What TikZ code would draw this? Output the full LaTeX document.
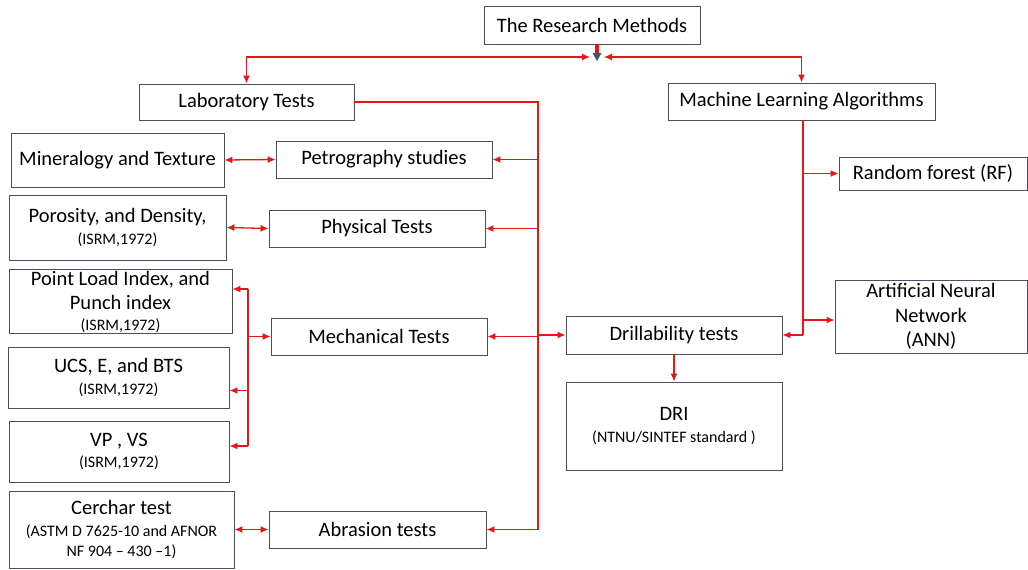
\documentclass[tikz,border=0pt]{standalone}
\usepackage{fontspec}
\setmainfont{Carlito}
\usetikzlibrary{arrows.meta}
\definecolor{linered}{RGB}{232,22,22}
\definecolor{boxgray}{RGB}{72,80,96}
\definecolor{tipblue}{RGB}{66,82,112}
\newcommand{\smtxt}[1]{{\fontsize{16}{18}\selectfont #1}}
\tikzset{
	box/.style={draw=boxgray,line width=0.9pt,align=center,inner sep=1pt,
		font=\fontsize{20.5}{24.5}\selectfont},
	link/.style={draw=linered,line width=1.3pt},
	stem/.style={linered,line width=4.5pt},
}
\begin{document}
\begin{tikzpicture}[x=1pt,y=-1pt,>={Latex[length={8pt 0},width={7pt 0}]}]
		\useasboundingbox (0,0) rectangle (1028,570);
		
		% top level
		\node[box,minimum width=216pt,minimum height=38pt] (rm) at (592,25) {The Research Methods};
		\node[box,minimum width=215pt,minimum height=36pt] (lab) at (246.5,102) {Laboratory Tests};
		\node[box,minimum width=267pt,minimum height=37pt] (ml) at (801.5,101.5) {Machine Learning Algorithms};
		
		% laboratory side
		\node[box,minimum width=216pt,minimum height=37pt] (pet) at (384,159.5) {Petrography studies};
		\node[box,minimum width=216pt,minimum height=37pt] (phy) at (377,228.5) {Physical Tests};
		\node[box,minimum width=216pt,minimum height=37pt] (mech) at (379,336.5) {Mechanical Tests};
		\node[box,minimum width=217pt,minimum height=37pt] (abr) at (377.5,529.5) {Abrasion tests};
		
		\node[box,minimum width=213pt,minimum height=54pt] (min) at (117.5,160) {Mineralogy and Texture};
		\node[box,minimum width=217pt,minimum height=65pt] (por) at (117.5,227.5) {Porosity, and Density,\\[-3pt]\smtxt{(ISRM,1972)}};
		\node[box,minimum width=223pt,minimum height=63pt] (pli) at (120.5,301.5) {Point Load Index, and\\Punch index\\[-4pt]\smtxt{(ISRM,1972)}};
		\node[box,minimum width=221pt,minimum height=61pt] (ucs) at (118.5,377.5) {UCS, E, and BTS\\[-3pt]\smtxt{(ISRM,1972)}};
		\node[box,minimum width=220pt,minimum height=61pt] (vp) at (119,451.5) {VP , VS\\[-3pt]\smtxt{(ISRM,1972)}};
		\node[box,minimum width=225pt,minimum height=77pt] (cer) at (121.5,529.5) {Cerchar test\\[-3pt]\smtxt{(ASTM D 7625-10 and AFNOR}\\[-4pt]\smtxt{NF 904 -- 430 --1)}};
		
		% machine learning side
		\node[box,minimum width=216pt,minimum height=38pt] (drl) at (674,335) {Drillability tests};
		\node[box,minimum width=216pt,minimum height=88pt] (dri) at (674,426) {DRI\\[-3pt]\smtxt{(NTNU/SINTEF standard )}};
		\node[box,minimum width=188pt,minimum height=33pt] (rf) at (933,173.5) {Random forest (RF)};
		\node[box,minimum width=192pt,minimum height=73pt] (ann) at (931,316.5) {Artificial Neural\\Network\\(ANN)};
		
		% junction under the title
		\coordinate (jn) at (597,61);
		\coordinate (jt) at (597,53);
		\draw[stem] (rm.south -| jn) -- (jt);
		\fill[tipblue] ([xshift=-4.5pt]jt) -- ([xshift=4.5pt]jt) -- (jn) -- cycle;
		\draw[link,<->] (lab.north) |- ([xshift=-7pt,yshift=4pt]jn);
		\draw[link,<->] (ml.north) |- ([xshift=7pt,yshift=4pt]jn);
		
		% laboratory bus
		\coordinate (lv) at (538,0);
		\draw[link,->] (lab.east) -| (abr.east -| lv) -- (abr.east);
		\foreach \n in {pet,phy,mech}{
			\draw[link,->] (\n.east -| lv) -- (\n.east);
		}
		\draw[link,->] (drl.west -| lv) -- (drl.west);
		
		\draw[link,<->] (min.east) -- (pet.west);
		\draw[link,<->] (por.east) -- (phy.west);
		\draw[link,<->] (cer.east) -- (abr.west);
		
		% mechanical branch
		\coordinate (mv) at (248,0);
		\coordinate (p1) at ([yshift=12.5pt]pli.east);
		\coordinate (p2) at ([yshift=-13pt]ucs.east);
		\coordinate (p3) at ([yshift=5.5pt]vp.east);
		\draw[link] (p1 -| mv) -- (p3 -| mv);
		\foreach \p in {p1,p2,p3}{
			\draw[link,->] (\p -| mv) -- (\p);
		}
		\draw[link,->] (mech.west -| mv) -- (mech.west);
		
		% machine learning bus
		\coordinate (rv) at (803,0);
		\coordinate (a1) at ([yshift=-3.5pt]ann.west);
		\draw[link] (ml.south -| rv) -- (drl.east -| rv);
		\draw[link,->] (rf.west -| rv) -- (rf.west);
		\draw[link,->] (a1 -| rv) -- (a1);
		\draw[link,->] (drl.east -| rv) -- (drl.east);
		\draw[link,->] (drl.south) -- (dri.north);
		\end{tikzpicture}
\end{document}
